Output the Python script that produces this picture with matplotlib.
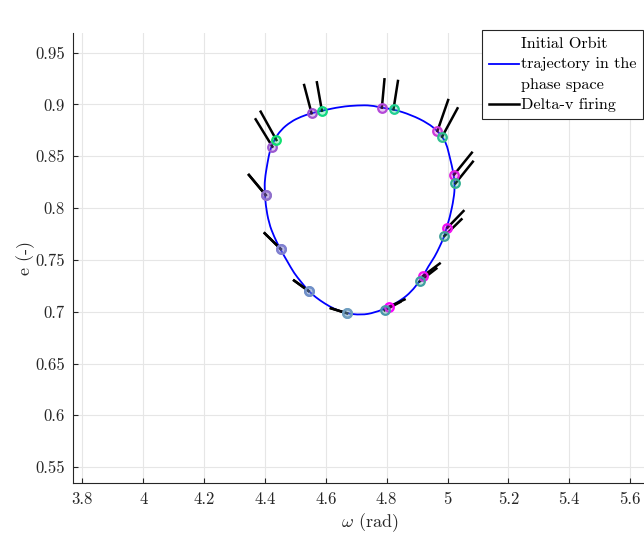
import numpy as np
import matplotlib
matplotlib.use("Agg")
import matplotlib.pyplot as plt
from matplotlib.path import Path
from matplotlib.patches import PathPatch
from matplotlib.lines import Line2D
from matplotlib.ticker import FuncFormatter

plt.rcParams["font.family"] = "serif"
plt.rcParams["font.serif"] = ["cmr10"]
plt.rcParams["mathtext.fontset"] = "cm"
plt.rcParams["axes.formatter.use_mathtext"] = True

# Initial orbit in the (omega, e) phase space (closed loop)
orbit_w = [4.399, 4.408, 4.4165, 4.430, 4.452, 4.485, 4.518, 4.551, 4.587, 4.650,
           4.705, 4.749, 4.782, 4.822, 4.881, 4.936, 4.967, 4.982, 4.996, 5.007,
           5.020, 5.024, 5.021, 5.007, 4.996, 4.989, 4.974, 4.958, 4.936, 4.920,
           4.908, 4.881, 4.848, 4.809, 4.760, 4.716, 4.666, 4.628, 4.595, 4.567,
           4.543, 4.518, 4.496, 4.474, 4.450, 4.430, 4.413, 4.402, 4.399]
orbit_e = [0.8271, 0.8435, 0.8561, 0.8657, 0.8754, 0.8834, 0.8882, 0.8915, 0.8940, 0.8979,
           0.8992, 0.8992, 0.8969, 0.8954, 0.8899, 0.8819, 0.8744, 0.8689, 0.8625, 0.8496,
           0.8336, 0.8223, 0.8097, 0.7904, 0.7805, 0.7724, 0.7627, 0.7531, 0.7434, 0.7345,
           0.7296, 0.7193, 0.7113, 0.7048, 0.6990, 0.6968, 0.6985, 0.7026, 0.7081, 0.7139,
           0.7200, 0.7290, 0.7371, 0.7483, 0.7605, 0.7724, 0.7853, 0.8030, 0.8175]

# Delta-v firings: start point, end point and tip of the thrust direction
start_w = [4.4023, 4.4244, 4.5531, 4.7842, 4.9667, 5.0218, 4.9997, 4.9195, 4.8092, 4.6696, 4.5432, 4.4518]
start_e = [0.8126, 0.8593, 0.8915, 0.8969, 0.8744, 0.8324, 0.7811, 0.7345, 0.7050, 0.6985, 0.7200, 0.7605]
start_tip_w = [4.3472, 4.3693, 4.5287, 4.7927, 5.0020, 5.0799, 5.0525, 4.9743, 4.8587, 4.6168, 4.4957, 4.3990]
start_tip_e = [0.8320, 0.8857, 0.9188, 0.9243, 0.9043, 0.8535, 0.7972, 0.7465, 0.7118, 0.7033, 0.7301, 0.7757]

end_w = [4.4023, 4.4376, 4.5871, 4.8224, 4.9822, 5.0261, 4.9898, 4.9083, 4.7934, 4.6696, 4.5432, 4.4518]
end_e = [0.8126, 0.8657, 0.8940, 0.8954, 0.8689, 0.8239, 0.7731, 0.7292, 0.7014, 0.6985, 0.7200, 0.7605]
end_tip_w = [4.3472, 4.3858, 4.5706, 4.8370, 5.0327, 5.0832, 5.0459, 4.9634, 4.8446, 4.6168, 4.4957, 4.3990]
end_tip_e = [0.8320, 0.8931, 0.9214, 0.9227, 0.8963, 0.8448, 0.7892, 0.7417, 0.7094, 0.7033, 0.7301, 0.7757]

start_colors = ["#9070cc", "#9a58d0", "#a050d0", "#b448d8", "#cc38d8", "#e020e0",
                "#f010f0", "#f810f0", "#ff00ff", "#6f9ec0", "#7090c8", "#8080d0"]
end_colors = ["#9070cc", "#10e070", "#10d880", "#20d090", "#30c090", "#30b090",
              "#40a098", "#40a0a0", "#4898a8", "#6f9ec0", "#7090c8", "#8080d0"]

x_ticks = [3.8, 4.0, 4.2, 4.4, 4.6, 4.8, 5.0, 5.2, 5.4, 5.6]
y_ticks = [0.55, 0.6, 0.65, 0.7, 0.75, 0.8, 0.85, 0.9, 0.95]

fig = plt.figure(figsize=(6.44, 5.42), dpi=100)
ax = fig.add_axes([73 / 644, 59 / 542, 593.6 / 644, 450 / 542])

# closed orbit drawn as a smooth quadratic path through the sampled points
pts = np.column_stack([orbit_w, orbit_e])
n = len(pts)
mids = 0.5 * (pts + np.roll(pts, -1, axis=0))
verts = [mids[-1]]
codes = [Path.MOVETO]
for i in range(n):
    verts += [pts[i], mids[i]]
    codes += [Path.CURVE3, Path.CURVE3]
orbit_patch = PathPatch(Path(verts, codes), facecolor="none",
                        edgecolor="#0000ff", lw=1.3, zorder=3)
ax.add_patch(orbit_patch)

for i in range(len(start_w)):
    ax.plot([start_w[i], start_tip_w[i]], [start_e[i], start_tip_e[i]],
            color="black", lw=1.8, zorder=4)
    ax.plot([end_w[i], end_tip_w[i]], [end_e[i], end_tip_e[i]],
            color="black", lw=1.8, zorder=4)

for w, e, c in zip(start_w, start_e, start_colors):
    ax.plot(w, e, "o", ms=6.2, mew=1.6, mec=c,
            mfc=matplotlib.colors.to_rgba(c, 0.3), zorder=5)
for w, e, c in zip(end_w, end_e, end_colors):
    ax.plot(w, e, "o", ms=6.2, mew=1.6, mec=c,
            mfc=matplotlib.colors.to_rgba(c, 0.3), zorder=5)

ax.set_xlim(3.769, 5.72)
ax.set_ylim(0.5347, 0.969)
ax.set_xticks(x_ticks)
ax.set_yticks(y_ticks)
fmt = FuncFormatter(lambda v, p: f"{round(v, 4):g}")
ax.xaxis.set_major_formatter(fmt)
ax.yaxis.set_major_formatter(fmt)

ax.grid(True, color="#e6e6e6", lw=0.8)
ax.set_axisbelow(True)
for side in ("top", "right"):
    ax.spines[side].set_visible(False)
for side in ("left", "bottom"):
    ax.spines[side].set_color("#262626")
    ax.spines[side].set_linewidth(0.8)
ax.tick_params(direction="in", length=3.5, width=0.8, colors="#262626",
               labelsize=12, pad=6)

ax.set_xlabel(r"$\omega$ (rad)", fontsize=13, color="#262626", labelpad=3)
ax.set_ylabel("e (-)", fontsize=13, color="#262626", labelpad=0)

handles = [Line2D([], [], color="#0000ff", lw=1.3),
           Line2D([], [], color="black", lw=1.8)]
labels = ["Initial Orbit\ntrajectory in the\nphase space", "Delta-v firing"]
leg = ax.legend(handles, labels, loc="upper right",
                bbox_to_anchor=(643 / 644, 1 - 30 / 542),
                bbox_transform=fig.transFigure, borderaxespad=0,
                fontsize=11.7, handlelength=1.85, handletextpad=0.1,
                labelspacing=0.38, borderpad=0.42, fancybox=False,
                framealpha=1, edgecolor="#262626")
leg.get_frame().set_linewidth(0.8)
for t in leg.get_texts():
    t.set_linespacing(1.62)

fig.savefig("out.png", dpi=100)
